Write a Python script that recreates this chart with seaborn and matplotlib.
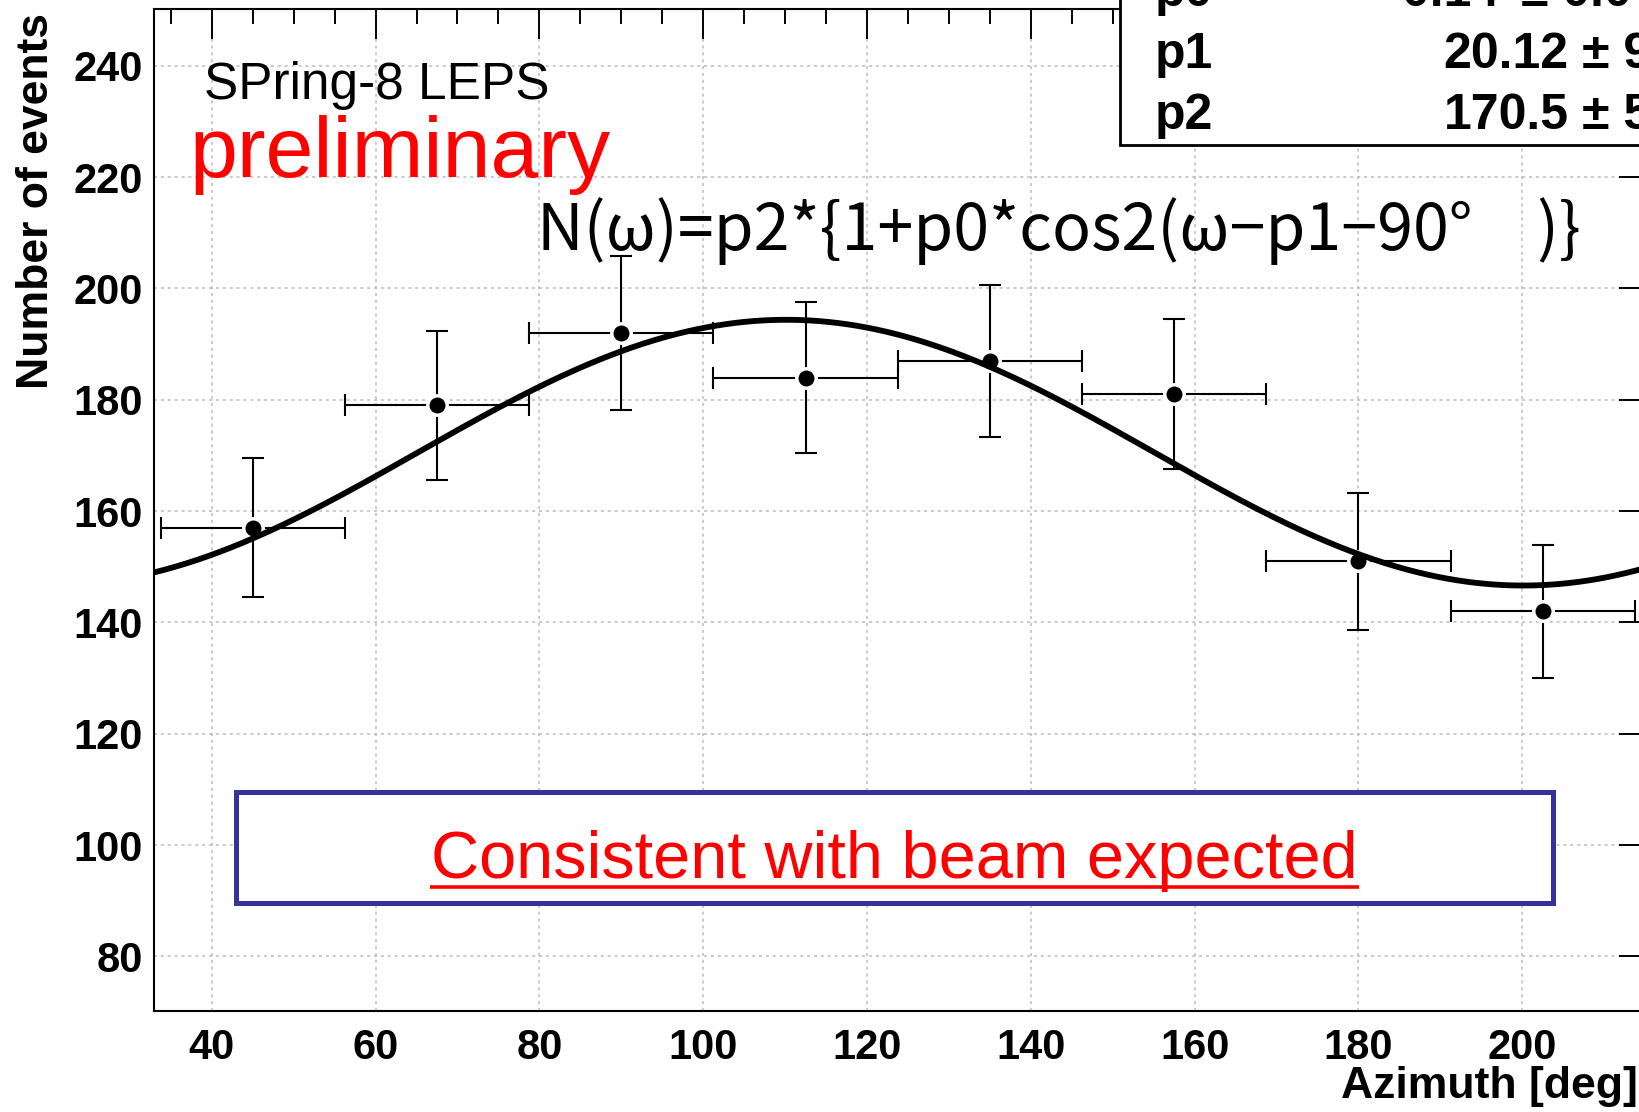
import numpy as np
import pandas as pd
import matplotlib
matplotlib.use("Agg")
import matplotlib.pyplot as plt
import seaborn as sns
from matplotlib.patches import Rectangle
from matplotlib.lines import Line2D
from matplotlib.ticker import MultipleLocator

# Azimuthal distribution: bin centres, counts and errors
azimuth_deg = [45.0, 67.5, 90.0, 112.5, 135.0, 157.5, 180.0, 202.5]
events = [157, 179, 192, 184, 187, 181, 151, 142]
events_err = [12.5, 13.4, 13.9, 13.6, 13.7, 13.5, 12.3, 11.9]
bin_half_width = [11.25] * 8

# Fit parameters of N(w) = p2*{1 + p0*cos2(w - p1 - 90deg)}
fit_p0 = 0.14
fit_p1 = 20.12
fit_p2 = 170.5

stat_names = ["p0", "p1", "p2"]
stat_values = ["0.14", "20.12", "170.5"]
stat_errors = ["\u00b1 0.0", "\u00b1 9", "\u00b1 5"]

x_range = (32.95, 217.3)
y_range = (70.2, 250.2)

W, H = 1640, 1112
sns.set_theme(style="white")
plt.rcParams["font.family"] = ["Liberation Sans", "DejaVu Sans"]


def fx(px):
    return px / W


def fy(py):
    return 1.0 - py / H


fig = plt.figure(figsize=(W / 100, H / 100), dpi=100, facecolor="white")
ax = fig.add_axes([fx(154), fy(1011), (1664 - 154) / W, (1011 - 9) / H])
ax.set_facecolor("white")

df = pd.DataFrame({"azimuth": azimuth_deg, "events": events,
                   "err": events_err, "xerr": bin_half_width})

# fitted function across the full axis range
omega = np.linspace(x_range[0], x_range[1], 800)
curve = fit_p2 * (1.0 + fit_p0 * np.cos(np.radians(2.0 * (omega - fit_p1 - 90.0))))
fit_df = pd.DataFrame({"azimuth": omega, "N": curve})

ax.errorbar(df["azimuth"], df["events"], xerr=df["xerr"], yerr=df["err"],
            fmt="none", ecolor="black", elinewidth=1.5, capsize=8,
            capthick=1.5, zorder=3)
sns.scatterplot(data=df, x="azimuth", y="events", ax=ax, color="black",
                s=196, edgecolor="white", linewidth=2.5, zorder=4,
                legend=False)
sns.lineplot(data=fit_df, x="azimuth", y="N", ax=ax, color="black",
             linewidth=4.2, zorder=5, estimator=None, legend=False)

ax.set_xlim(*x_range)
ax.set_ylim(*y_range)
ax.set_xlabel("")
ax.set_ylabel("")

ax.xaxis.set_major_locator(MultipleLocator(20))
ax.xaxis.set_minor_locator(MultipleLocator(5))
ax.yaxis.set_major_locator(MultipleLocator(20))
ax.yaxis.set_minor_locator(MultipleLocator(5))

ax.grid(True, which="major", color="#bcbcbc", linestyle=(0, (2, 2.5)),
        linewidth=1.1, zorder=0)
ax.set_axisbelow(True)

for sp in ax.spines.values():
    sp.set_visible(True)
    sp.set_color("black")
    sp.set_linewidth(1.5)

ax.tick_params(which="both", direction="in", top=True, right=True,
               color="black", width=1.4, labelcolor="black")
ax.tick_params(axis="x", which="major", length=21.6, pad=12, labelsize=30)
ax.tick_params(axis="x", which="minor", length=10.8)
ax.tick_params(axis="y", which="major", length=32.4, pad=8, labelsize=30)
ax.tick_params(axis="y", which="minor", length=15.8)
for lbl in ax.get_xticklabels() + ax.get_yticklabels():
    lbl.set_fontweight("bold")

# axis titles
fig.text(fx(1638), fy(1098), "Azimuth [deg]", ha="right", va="baseline",
         fontsize=32, fontweight="bold", color="black")
fig.text(fx(15.6), fy(13), "Number of events", ha="left", va="top",
         rotation=90, fontsize=32, fontweight="bold", color="black")

# annotations
fig.text(fx(203.6), fy(99), "SPring-8 LEPS", ha="left", va="baseline",
         fontsize=37, color="black")
fig.text(fx(189.8), fy(176.7), "preliminary", ha="left", va="baseline",
         fontsize=62, color="#ff0000")
fig.text(fx(537), fy(250),
         "N(\u03c9)=p2*{1+p0*cos2(\u03c9\u2212p1\u221290\u00b0\u3000)}",
         ha="left", va="baseline", fontsize=46.5, color="black",
         family=["Noto Sans CJK JP", "DejaVu Sans"])

# framed remark
fig.add_artist(Rectangle((fx(235.6), fy(903.3)), (1553 - 235.6) / W,
                         (903.3 - 791.7) / H, transform=fig.transFigure,
                         facecolor="white", edgecolor="#333399",
                         linewidth=3.6, zorder=8))
fig.text(fx(894.5), fy(878.3), "Consistent with beam expected",
         ha="center", va="baseline", fontsize=48, color="#ff0000", zorder=9)
fig.add_artist(Line2D([fx(430), fx(1359)], [fy(886.7), fy(886.7)],
                      transform=fig.transFigure, color="#ff0000",
                      linewidth=2.6, solid_capstyle="butt", zorder=9))

# fit statistics box
fig.add_artist(Rectangle((fx(1119.6), fy(145)), (1720 - 1119.6) / W,
                         (145 + 60) / H, transform=fig.transFigure,
                         facecolor="white", edgecolor="black",
                         linewidth=2.0, zorder=10))
row_base = [6.0, 68.0, 129.0]
value_right = [1499, 1568, 1569]
error_left = [1521, 1582, 1582]
for name, val, err, yb, vr, el in zip(stat_names, stat_values, stat_errors,
                                      row_base, value_right, error_left):
    fig.text(fx(1155), fy(yb), name, ha="left", va="baseline", fontsize=36,
             fontweight="bold", color="black", zorder=11)
    fig.text(fx(vr), fy(yb), val, ha="right", va="baseline", fontsize=36,
             fontweight="bold", color="black", zorder=11)
    fig.text(fx(el), fy(yb), err, ha="left", va="baseline", fontsize=36,
             fontweight="bold", color="black", zorder=11)

fig.savefig("out.png", dpi=100, facecolor="white")
